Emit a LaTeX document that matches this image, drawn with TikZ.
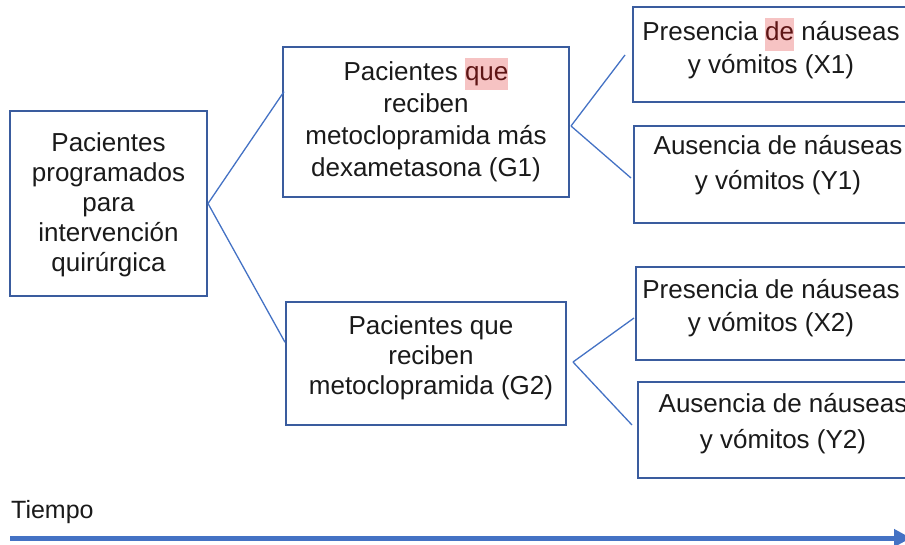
\documentclass[tikz,border=0pt]{standalone}
\usepackage{fontspec}
\setmainfont{Liberation Sans}
\usetikzlibrary{arrows.meta,calc}
\definecolor{boxblue}{HTML}{3A5C9E}
\definecolor{lineblue}{HTML}{4472C4}
\definecolor{hlbg}{HTML}{F6C3C3}
\definecolor{hltext}{HTML}{5E1515}
\definecolor{txt}{HTML}{1A1A1A}
\newcommand{\hlword}[1]{{\setlength{\fboxsep}{0pt}\colorbox{hlbg}{\strut\textcolor{hltext}{#1}}}}
\begin{document}
\begin{tikzpicture}[x=1pt,y=-1pt,
  box/.style={draw=boxblue, line width=2pt, inner sep=0pt},
  lbl/.style={align=center, text=txt, inner sep=0pt},
  conn/.style={draw=lineblue, line width=1.3pt}]
\useasboundingbox (0,0) rectangle (905,544);
% boxes
\node[box, minimum width=197, minimum height=185] (a) at (108.5,203.5) {};
\node[box, minimum width=286, minimum height=150] (g1) at (426,122) {};
\node[box, minimum width=280, minimum height=123] (g2) at (426,363.5) {};
\node[box, minimum width=276, minimum height=95] (x1) at (771,54.5) {};
\node[box, minimum width=288, minimum height=97] (y1) at (778,174.5) {};
\node[box, minimum width=270, minimum height=93] (x2) at (771,313.5) {};
\node[box, minimum width=290, minimum height=96] (y2) at (783,430) {};
% texts
\node[lbl, font=\fontsize{26}{30}\selectfont] (at) at (108.5,205) {Pacientes\\programados\\para\\intervención\\quirúrgica};
\node[lbl, font=\fontsize{26}{32}\selectfont] (g1t) at (426,120) {Pacientes \hlword{que}\\reciben\\metoclopramida más\\dexametasona (G1)};
\node[lbl, font=\fontsize{26}{30}\selectfont] (g2t) at (431,358) {Pacientes que\\reciben\\metoclopramida (G2)};
\node[lbl, font=\fontsize{26}{33}\selectfont] (x1t) at (771,48.5) {Presencia \hlword{de} náuseas\\y vómitos (X1)};
\node[lbl, font=\fontsize{26}{35}\selectfont] (y1t) at (778,165) {Ausencia de náuseas\\y vómitos (Y1)};
\node[lbl, font=\fontsize{26}{33}\selectfont] (x2t) at (771,308.5) {Presencia de náuseas\\y vómitos (X2)};
\node[lbl, font=\fontsize{26}{36}\selectfont] (y2t) at (783,423.5) {Ausencia de náuseas\\y vómitos (Y2)};
\node[lbl, anchor=west, font=\fontsize{25}{30}\selectfont] (tiempo) at (11,512) {Tiempo};
% connectors
\draw[conn] (a.east) -- ($(g1.north west)!0.3!(g1.south west)+(2,0)$);
\draw[conn] (a.east) -- ($(g2.north west)!0.33!(g2.south west)$);
\draw[conn] ($(g1.east)+(1,4)$) -- ($(x1.west)+(-7,0.5)$);
\draw[conn] ($(g1.east)+(1,4)$) -- ($(y1.west)+(-2,3.5)$);
\draw[conn] ($(g2.east)+(6,-1.5)$) -- ($(x2.west)+(-1,4.5)$);
\draw[conn] ($(g2.east)+(6,-1.5)$) -- ($(y2.west)+(-5,-5)$);
% time arrow
\coordinate (ts) at (10,538);
\coordinate (te) at (911,538);
\draw[lineblue, line width=5pt, -{Triangle[length=17pt,width=17pt]}] (ts) -- (te);
\end{tikzpicture}
\end{document}
